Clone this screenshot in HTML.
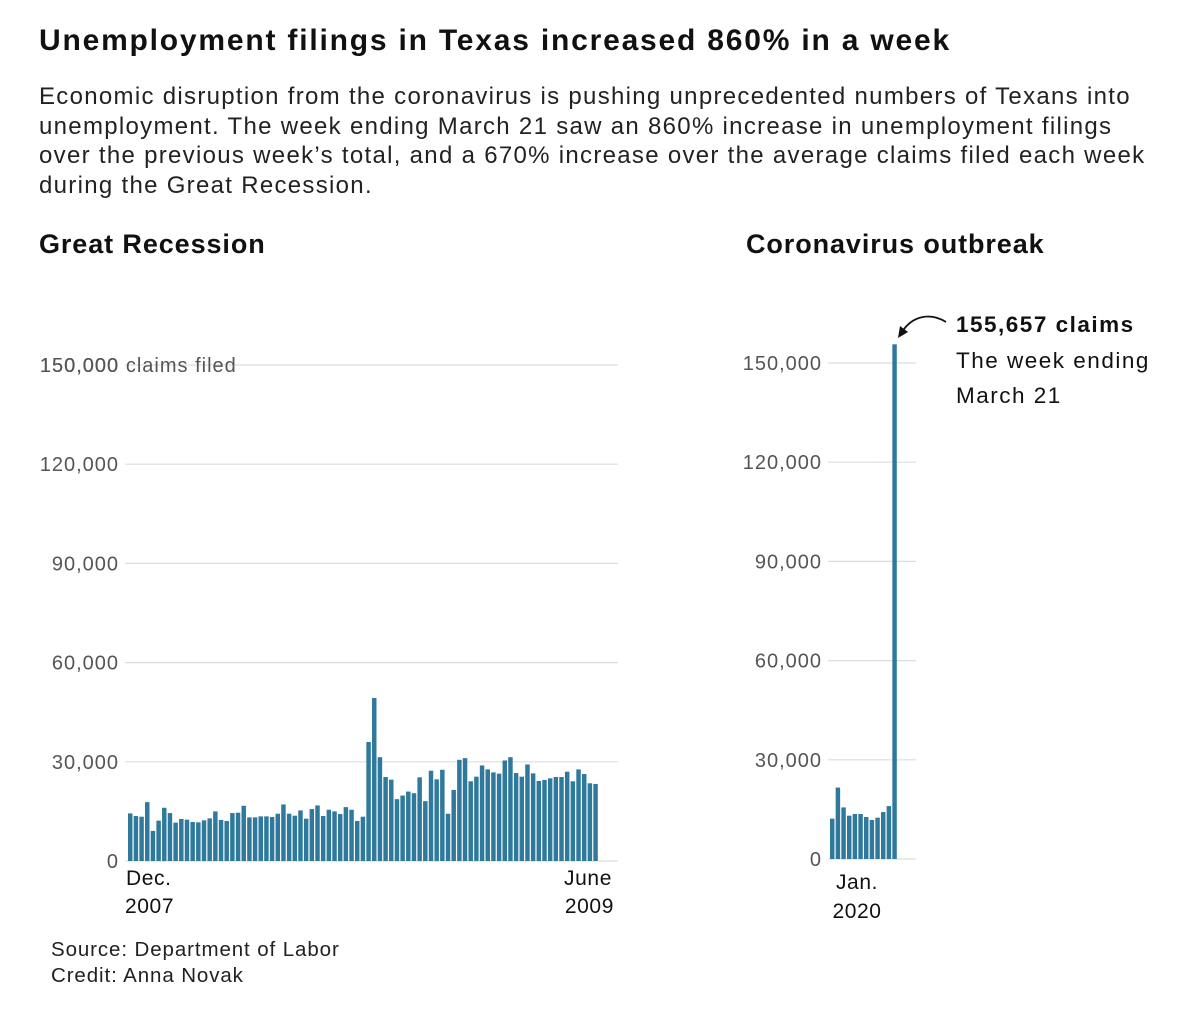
<!DOCTYPE html>
<html><head><meta charset="utf-8">
<style>
body{margin:0;background:#fff;font-family:"Liberation Sans",sans-serif;color:#111;}
#wrap{position:relative;width:1200px;height:1021px;overflow:hidden;}
.t{position:absolute;white-space:nowrap;}
</style></head>
<body>
<div id="wrap">
<div class="t" style="left:39px;top:24px;font-size:30px;font-weight:bold;letter-spacing:1.8px;">Unemployment filings in Texas increased 860% in a week</div>
<div class="t" style="left:39px;top:82px;font-size:24px;line-height:29.7px;letter-spacing:1.3px;white-space:normal;width:1110px;color:#222;">Economic disruption from the coronavirus is pushing unprecedented numbers of Texans into unemployment. The week ending March 21 saw an 860% increase in unemployment filings over the previous week’s total, and a 670% increase over the average claims filed each week during the Great Recession.</div>
<div class="t" style="left:39px;top:229px;font-size:27px;font-weight:bold;letter-spacing:0.9px;">Great Recession</div>
<div class="t" style="left:746px;top:229px;font-size:27px;font-weight:bold;letter-spacing:0.9px;">Coronavirus outbreak</div>
<svg id="chart" width="1200" height="1021" style="position:absolute;left:0;top:0"></svg>
<div class="t" style="left:51px;top:937px;font-size:20.5px;line-height:26px;letter-spacing:0.9px;color:#222;">Source: Department of Labor<br>Credit: Anna Novak</div>
</div>
<script>
const leftValues=[14400,13600,13400,17800,9100,12200,16100,14500,11600,12700,12500,11800,11700,12300,12900,15000,12400,12100,14500,14600,16700,13200,13200,13500,13500,13300,14300,17100,14300,13700,15300,12800,15700,16800,13600,15500,15000,14200,16300,15500,12100,13400,36000,49300,31400,25400,24600,18700,19800,21000,20500,25300,18100,27300,24700,27600,14300,21500,30600,31100,24100,25500,28900,27700,26800,26400,30400,31400,26600,25500,29200,26500,24200,24500,25000,25400,25400,27000,24100,27700,26300,23500,23300];
const rightValues=[12200,21600,15600,13100,13600,13600,12700,11800,12500,14200,16000,155657];
const yTicks=[0,30000,60000,90000,120000,150000];
const tickLabels=["0","30,000","60,000","90,000","120,000","150,000"];
const NS="http://www.w3.org/2000/svg";
const svg=document.getElementById('chart');
function mk(tag,attrs,text){const e=document.createElementNS(NS,tag);for(const k in attrs)e.setAttribute(k,attrs[k]);if(text!==undefined)e.textContent=text;svg.appendChild(e);return e;}
function panel(cfg,values,prefix){
  const y=v=>cfg.base-(v/150000)*(cfg.base-cfg.top);
  yTicks.forEach((t,i)=>{
    const g=mk('line',{x1:cfg.gx1,x2:cfg.gx2,y1:y(t),y2:y(t),stroke:'#ddd','stroke-width':1.2});
    
    
    const tx=mk('text',{x:cfg.lx,y:y(t)+7,'text-anchor':'end','font-size':20,'letter-spacing':1,fill:'#555','font-family':'Liberation Sans, sans-serif'},tickLabels[i]);
    
    
  });
  const bw=(cfg.bx2-cfg.bx1)/values.length;
  values.forEach((v,i)=>{
    const r=mk('rect',{x:cfg.bx1+i*bw,y:y(v),width:bw-1.2,height:cfg.base-y(v),fill:'#2f7a9c'});
    
    
  });
  return y;
}
panel({base:861,top:365,gx1:125,gx2:618,lx:119,bx1:128,bx2:599},leftValues,'left');
panel({base:859,top:363,gx1:828,gx2:916,lx:822,bx1:830,bx2:898},rightValues,'right');
const cl=mk('text',{x:40,y:372,'font-size':20,'letter-spacing':1,fill:'#555','font-family':'Liberation Sans, sans-serif'},'150,000 claims filed');


function lab(x,y,s,anchor,name){const e=mk('text',{x:x,y:y,'font-size':21,'letter-spacing':0.6,fill:'#111','text-anchor':anchor,'font-family':'Liberation Sans, sans-serif'},s);}
lab(126,885,'Dec.','start','x-label-start');lab(125,913,'2007','start','x-label-start-year');
lab(612,885,'June','end','x-label-end');lab(614,913,'2009','end','x-label-end-year');
lab(857,889,'Jan.','middle','x-label-jan');lab(857,918,'2020','middle','x-label-2020');
const arr=mk('path',{d:'M946,322 C930,312 912,316 902,332',fill:'none',stroke:'#111','stroke-width':1.8});


const ah=mk('path',{d:'M898,338 L900,326 L908,332 Z',fill:'#111'});


const a1=mk('text',{x:956,y:332,'font-size':22.5,'letter-spacing':1.5,'font-weight':'bold',fill:'#111','font-family':'Liberation Sans, sans-serif'},'155,657 claims');


const a2=mk('text',{x:956,y:368,'font-size':22.5,'letter-spacing':1.5,fill:'#111','font-family':'Liberation Sans, sans-serif'},'The week ending');


const a3=mk('text',{x:956,y:403,'font-size':22.5,'letter-spacing':1.5,fill:'#111','font-family':'Liberation Sans, sans-serif'},'March 21');


</script>
</body></html>
